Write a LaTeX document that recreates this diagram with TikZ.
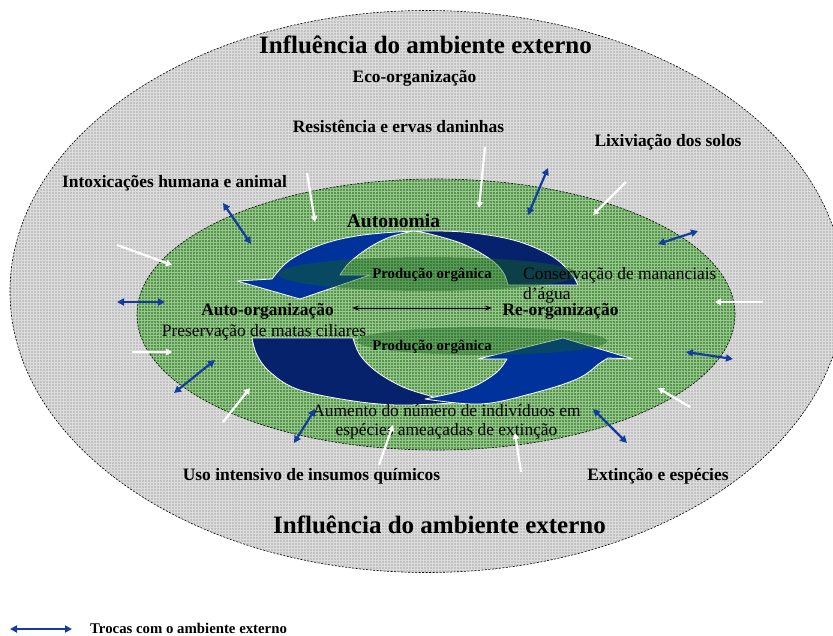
\documentclass[tikz,border=0pt]{standalone}
\usepackage{fontspec}
\setmainfont{Liberation Serif}
\usetikzlibrary{arrows.meta,patterns}
\definecolor{outergray}{RGB}{194,194,194}
\definecolor{gridgray}{RGB}{220,220,220}
\definecolor{innergreen}{RGB}{86,150,76}
\definecolor{gridgreen}{RGB}{150,198,140}
\definecolor{shadowgreen}{RGB}{20,100,30}
\definecolor{navyD}{RGB}{6,34,108}
\definecolor{blueB}{RGB}{0,50,155}
\definecolor{xblue}{RGB}{20,60,160}
\tikzset{
  bordr/.style={draw=black,line width=0.6pt,dash pattern=on 2pt off 1.5pt},
  lbl/.style={font=\fontsize{17.4}{20}\selectfont\bfseries,anchor=base,inner sep=0pt},
  regl/.style={font=\fontsize{17.4}{20}\selectfont,inner sep=0pt},
  ttl/.style={font=\fontsize{25}{28}\selectfont\bfseries,anchor=base,inner sep=0pt},
  prod/.style={font=\fontsize{14.8}{17}\selectfont\bfseries,anchor=base,inner sep=0pt},
  whitearrow/.style={draw=white,line width=2.2pt,-{Triangle[length=6pt,width=6.5pt]}},
  bluearrow/.style={draw=xblue,line width=2.2pt,{Triangle[length=7pt,width=7pt]}-{Triangle[length=7pt,width=7pt]}},
  blackarrow/.style={draw=black,line width=1pt,{Stealth[length=7pt,width=5pt]}-{Stealth[length=7pt,width=5pt]}},
  arrowpart/.style={draw=white,line width=0.8pt,line join=round},
}
\begin{document}
\begin{tikzpicture}[x=1pt,y=-1pt]
\useasboundingbox (0,0) rectangle (833,635);
% outer ellipse
\coordinate (oc) at (427,291.5);
\fill[outergray] (oc) ellipse [x radius=417pt, y radius=281pt];
\fill[pattern=grid,pattern color=gridgray] (oc) ellipse [x radius=417pt, y radius=281pt];
\draw[bordr] (oc) ellipse [x radius=417pt, y radius=281pt];
% inner ellipse
\coordinate (ic) at (436,314.5);
\fill[innergreen] (ic) ellipse [x radius=299pt, y radius=135.5pt];
\fill[pattern=grid,pattern color=gridgreen] (ic) ellipse [x radius=299pt, y radius=135.5pt];
\draw[bordr] (ic) ellipse [x radius=299pt, y radius=135.5pt];
% upper circular arrow
\fill[navyD,arrowpart] plot[smooth,tension=0.6] coordinates {(413,231) (463,232) (513,240) (550,255) (570,272) (578,285)}
  -- (508,285) -- plot[smooth,tension=0.6] coordinates {(508,285) (503,272) (490,259) (463,244) (430,234) (413,231)} -- cycle;
\fill[blueB,arrowpart] plot[smooth,tension=0.6] coordinates {(413,231) (363,235) (323,244) (290,260) (272,279)}
  -- (237,281) -- (300,299) -- (370,275) -- (340,275)
  -- plot[smooth,tension=0.6] coordinates {(340,275) (350,262) (370,247) (390,237) (413,231)} -- cycle;
% lower circular arrow
\fill[navyD,arrowpart] plot[smooth,tension=0.6] coordinates {(252,338) (257,355) (270,372) (297,389) (347,400) (397,405) (452,403)}
  -- plot[smooth,tension=0.6] coordinates {(452,403) (430,396) (403,387) (377,372) (360,355) (353,338)} -- cycle;
\fill[blueB,arrowpart] plot[smooth,tension=0.6] coordinates {(425,399) (480,404) (530,394) (577,379) (600,363) (608,358)}
  -- (633,359) -- (563,338) -- (478,359) -- (507,359)
  -- plot[smooth,tension=0.6] coordinates {(507,359) (497,372) (477,385) (457,392) (425,399)} -- cycle;
% shadows
\fill[shadowgreen,opacity=0.45] (428,274) ellipse [x radius=150pt, y radius=17pt];
\fill[shadowgreen,opacity=0.4] (482,341) ellipse [x radius=125pt, y radius=14pt];
% texts
\node[ttl] (t1) at (425.5,53) {Influência do ambiente externo};
\node[lbl] (eco) at (414.5,82) {Eco-organização};
\node[lbl] (res) at (398.5,132) {Resistência e ervas daninhas};
\node[lbl] (lix) at (668,146) {Lixiviação dos solos};
\node[lbl] (intox) at (174.5,187) {Intoxicações humana e animal};
\node[lbl,font=\fontsize{19.5}{22}\selectfont\bfseries] (auton) at (393.5,227) {Autonomia};
\node[prod] (prod1) at (432,278) {Produção orgânica};
\node[regl,anchor=base west] (cons) at (523,279) {Conservação de mananciais};
\node[regl,anchor=base west] (dag) at (523,299) {d’água};
\node[lbl] (auto) at (267.5,315) {Auto-organização};
\node[lbl] (reorg) at (560.5,315) {Re-organização};
\node[regl,anchor=base] (pres) at (264,336) {Preservação de matas ciliares};
\node[prod] (prod2) at (432,350) {Produção orgânica};
\node[regl,anchor=base] (aum) at (446.5,416) {Aumento do número de indivíduos em};
\node[regl,anchor=base] (esp) at (446.5,435) {espécies ameaçadas de extinção};
\node[lbl] (uso) at (311.5,480) {Uso intensivo de insumos químicos};
\node[lbl] (ext) at (658,480) {Extinção e espécies};
\node[ttl] (t2) at (439.5,533) {Influência do ambiente externo};
\node[prod,anchor=base west] (leg) at (90,633) {Trocas com o ambiente externo};
% black arrow
\coordinate (ka) at (352,308); \coordinate (kb) at (492,308);
\draw[blackarrow] (ka) -- (kb);
% white arrows
\foreach \n/\a/\b in {1/{307,173}/{315,222}, 2/{485,147}/{479,208}, 3/{626,182}/{593,215},
  4/{117,245}/{172,265}, 5/{763,302}/{715,302}, 6/{132,352}/{172,352}, 7/{223,422}/{250,388},
  8/{690,407}/{658,388}, 9/{379,465}/{393,425}, 10/{521,472}/{515,433}}{
  \coordinate (wa\n) at (\a); \coordinate (wb\n) at (\b);
  \draw[whitearrow] (wa\n) -- (wb\n);
}
% blue double arrows
\foreach \n/\a/\b in {1/{223,203}/{251,244}, 2/{548,168}/{528,215}, 3/{658,244}/{698,231},
  4/{117,302}/{165,302}, 5/{686,352}/{733,359}, 6/{174,393}/{215,360}, 7/{294,443}/{315,409},
  8/{593,409}/{627,443}, 9/{10,629}/{72,629}}{
  \coordinate (ba\n) at (\a); \coordinate (bb\n) at (\b);
  \draw[bluearrow] (ba\n) -- (bb\n);
}
\end{tikzpicture}
\end{document}
